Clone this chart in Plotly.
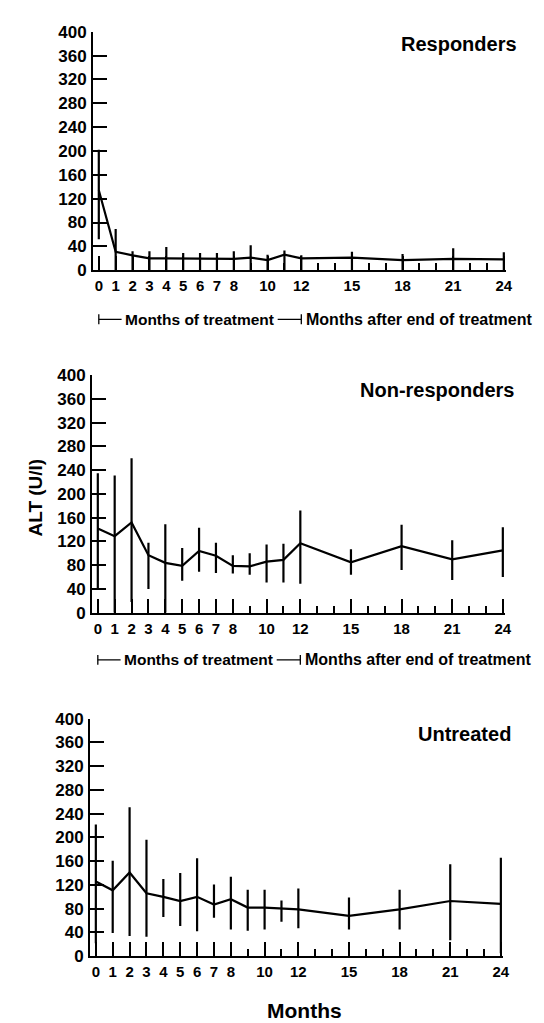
import plotly.graph_objects as go

# ---------------- data ----------------
months = [0, 1, 2, 3, 4, 5, 6, 7, 8, 9, 10, 11, 12, 15, 18, 21, 24]
major_ticks = [0, 1, 2, 3, 4, 5, 6, 7, 8, 10, 12, 15, 18, 21, 24]
minor_ticks = [9, 11, 13, 14, 16, 17, 19, 20, 22, 23]
y_ticks = list(range(0, 401, 40))

resp_mean = [134, 31, 25, 20, 20, 20, 20, 20, 19, 21, 17, 26, 20, 21, 17, 19, 18]
resp_upper = [202, 69, 32, 32, 39, 29, 29, 29, 32, 42, 26, 33, 25, 31, 27, 37, 30]
resp_lower = [52, 0, 0, 0, 0, 0, 0, 0, 0, 0, 0, 0, 0, 0, 0, 0, 0]

nonresp_mean = [142, 129, 152, 97, 84, 79, 104, 96, 79, 78, 86, 89, 117, 85, 112, 90, 105]
nonresp_upper = [235, 231, 260, 118, 149, 109, 143, 118, 97, 100, 115, 116, 172, 107, 148, 122, 144]
nonresp_lower = [40, 0, 18, 40, 0, 54, 69, 67, 66, 64, 51, 51, 49, 64, 72, 55, 60]

untr_mean = [126, 111, 141, 106, 100, 93, 100, 87, 96, 82, 82, 81, 79, 68, 79, 93, 88]
untr_upper = [222, 161, 251, 196, 130, 140, 165, 121, 134, 112, 112, 94, 114, 99, 112, 155, 166]
untr_lower = [22, 39, 34, 33, 66, 51, 42, 65, 45, 43, 45, 58, 47, 45, 45, 27, 5]

panel_titles = ["Responders", "Non-responders", "Untreated"]
y_title = "ALT (U/l)"
x_title = "Months"
phase1 = "Months of treatment"
phase2 = "Months after end of treatment"

# ---------------- layout helpers ----------------
W, H = 544, 1023
FONT = "Liberation Sans, Arial, sans-serif"


def px(x):
    return x / W


def py(y):
    return 1 - y / H


panels = [
    dict(mean=resp_mean, up=resp_upper, lo=resp_lower, top=15, bot=258, left=86, right=502,
         title_x=518, title_y=28),
    dict(mean=nonresp_mean, up=nonresp_upper, lo=nonresp_lower, top=365, bot=607, left=85, right=501,
         title_x=515, title_y=380),
    dict(mean=untr_mean, up=untr_upper, lo=untr_lower, top=715, bot=957, left=83, right=499,
         title_x=512, title_y=731),
]

fig = go.Figure()
layout = dict(
    width=W, height=H,
    margin=dict(l=0, r=0, t=0, b=0),
    paper_bgcolor="white", plot_bgcolor="white",
    showlegend=False,
    font=dict(family=FONT, color="black"),
)
annotations = []
shapes = []

for i, p in enumerate(panels):
    n = i + 1
    xa = "x" if n == 1 else f"x{n}"
    ya = "y" if n == 1 else f"y{n}"
    fig.add_trace(go.Scatter(
        x=months, y=p["mean"], mode="lines", xaxis=xa, yaxis=ya,
        line=dict(color="black", width=2.2),
        error_y=dict(type="data", symmetric=False,
                     array=[u - m for u, m in zip(p["up"], p["mean"])],
                     arrayminus=[m - l for m, l in zip(p["mean"], p["lo"])],
                     width=0, thickness=2.2, color="black"),
        hoverinfo="skip",
    ))
    layout["xaxis" if n == 1 else f"xaxis{n}"] = dict(
        domain=[px(p["left"]), px(p["right"] + 2)],
        anchor=ya, range=[-0.35, 24.1],
        tickmode="array", tickvals=major_ticks, ticktext=[str(t) for t in major_ticks],
        ticks="inside", ticklen=14, tickwidth=1.6, tickcolor="black",
        minor=dict(tickmode="array", tickvals=minor_ticks, ticks="inside", ticklen=7,
                   tickwidth=1.6, tickcolor="black"),
        showline=True, linewidth=1.6, linecolor="black",
        showgrid=False, zeroline=False,
        tickfont=dict(family=FONT, size=15, color="black", weight="bold"),
        ticklabelstandoff=1,
    )
    layout["yaxis" if n == 1 else f"yaxis{n}"] = dict(
        domain=[py(p["bot"]), py(p["top"])],
        anchor=xa, range=[0, 400],
        tickmode="array", tickvals=y_ticks,
        ticks="inside", ticklen=14, tickwidth=1.6, tickcolor="black",
        showline=True, linewidth=1.6, linecolor="black",
        showgrid=False, zeroline=False,
        tickfont=dict(family=FONT, size=17, color="black", weight="bold"),
        ticklabelstandoff=1,
    )
    annotations.append(dict(
        text=panel_titles[i], xref="paper", yref="paper",
        x=px(p["title_x"]), y=py(p["title_y"]), xanchor="right", yanchor="middle",
        showarrow=False, font=dict(family=FONT, size=20, color="black", weight="bold"),
    ))

# phase brackets under the first two panels
for n, yrow in [(1, 308), (2, 655)]:
    xr = "x" if n == 1 else f"x{n}"
    line = dict(color="black", width=1.3)
    shapes.append(dict(type="line", xref=xr, yref="paper", x0=0, x1=0,
                       y0=py(yrow - 5), y1=py(yrow + 5), line=line))
    shapes.append(dict(type="line", xref=xr, yref="paper", x0=0, x1=1.35,
                       y0=py(yrow), y1=py(yrow), line=line))
    shapes.append(dict(type="line", xref=xr, yref="paper", x0=10.6, x1=12,
                       y0=py(yrow), y1=py(yrow), line=line))
    shapes.append(dict(type="line", xref=xr, yref="paper", x0=12, x1=12,
                       y0=py(yrow - 5), y1=py(yrow + 5), line=line))
    annotations.append(dict(text=phase1, xref=xr, yref="paper", x=1.45, y=py(yrow),
                            xanchor="left", yanchor="middle", showarrow=False,
                            font=dict(family=FONT, size=15.5, color="black", weight="bold")))
    annotations.append(dict(text=phase2, xref=xr, yref="paper", x=12.15, y=py(yrow),
                            xanchor="left", yanchor="middle", showarrow=False,
                            font=dict(family=FONT, size=16, color="black", weight="bold")))

annotations.append(dict(text=y_title, xref="paper", yref="paper", x=px(28), y=py(490),
                        xanchor="center", yanchor="middle", textangle=-90, showarrow=False,
                        font=dict(family=FONT, size=19, color="black", weight="bold")))
annotations.append(dict(text=x_title, xref="paper", yref="paper", x=px(300), y=py(1012),
                        xanchor="center", yanchor="middle", showarrow=False,
                        font=dict(family=FONT, size=21, color="black", weight="bold")))

layout["annotations"] = annotations
layout["shapes"] = shapes
fig.update_layout(**layout)
fig.write_html("out.html")
